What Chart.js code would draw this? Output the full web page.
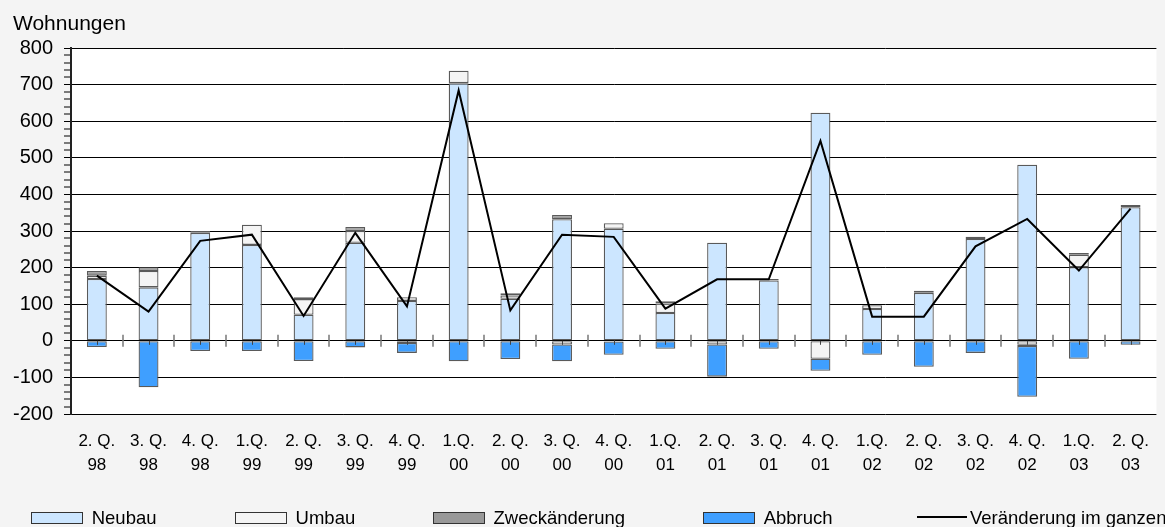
<!DOCTYPE html>
<html>
<head>
<meta charset="utf-8">
<script src="https://cdn.jsdelivr.net/npm/chart.js@4.4.0/dist/chart.umd.min.js"></script>
<style>
  html, body { margin: 0; padding: 0; background: #f4f4f4; }
  #wrap { position: relative; width: 1165px; height: 527px; overflow: hidden;
          font-family: "Liberation Sans", Arial, sans-serif; color: #000; }
  #chart { position: absolute; left: 0; top: 0; }
  #unit { position: absolute; left: 13px; top: 12px; font-size: 21px; line-height: 21px; }
  .leg { position: absolute; top: 508px; font-size: 18.5px; line-height: 19px; white-space: nowrap; }
  .leg i { position: absolute; left: 0; top: 4px; width: 50px; height: 10px; border: 1px solid #333; }
  .leg i.line { top: 8px; height: 2px; border: 0; background: #000; }
</style>
</head>
<body>
<div id="wrap">
  <canvas id="chart" width="1165" height="527"></canvas>
  <div id="unit">Wohnungen</div>
  <div id="legend"></div>
</div>
<script>
// Quartale und Jahre (Achsenbeschriftung)
var quarters = ["2. Q.", "3. Q.", "4. Q.", "1.Q.", "2. Q.", "3. Q.", "4. Q.",
                "1.Q.", "2. Q.", "3. Q.", "4. Q.", "1.Q.", "2. Q.", "3. Q.", "4. Q.",
                "1.Q.", "2. Q.", "3. Q.", "4. Q.", "1.Q.", "2. Q."];
var years = ["98", "98", "98", "99", "99", "99", "99",
             "00", "00", "00", "00", "01", "01", "01", "01",
             "02", "02", "02", "02", "03", "03"];

// Werte (Wohnungen)
var neubau   = [169, 146, 295, 262, 71, 268, 109, 704, 115, 332, 306, 76, 268, 165, 623, 87, 131, 278, 481, 201, 365];
var umbau    = [9, 45, 0, 55, 43, 32, 10, 34, 9, -10, 15, 26, -10, 0, -49, 10, 6, 6, -11, 34, 6];
var zweck    = [13, 10, 5, 0, 5, 11, -6, 0, 6, 12, -2, 6, 0, 4, 0, 0, 0, 0, -3, 5, 0];
var abbruch  = [-17, -127, -28, -28, -55, -18, -27, -56, -50, -46, -36, -22, -88, -22, -33, -38, -71, -33, -139, -49, -11];
var gesamt   = [178, 80, 273, 290, 68, 295, 94, 684, 83, 290, 284, 88, 168, 168, 546, 66, 66, 258, 333, 192, 361];

var labels = quarters.map(function(q, i){ return [q, years[i]]; });

// weisser Hintergrund der Zeichenflaeche
var plotBg = {
  id: 'plotBg',
  beforeDraw: function(chart){
    var a = chart.chartArea, ctx = chart.ctx;
    ctx.save();
    ctx.fillStyle = '#fff';
    ctx.fillRect(a.left, a.top, a.right - a.left, a.bottom - a.top);
    ctx.restore();
  }
};

// Striche auf der Nulllinie zwischen den Kategorien
var zeroTicks = {
  id: 'zeroTicks',
  afterDatasetsDraw: function(chart){
    var x = chart.scales.x, y = chart.scales.y, ctx = chart.ctx;
    var y0 = y.getPixelForValue(0);
    var n = chart.data.labels.length;
    ctx.save();
    ctx.lineWidth = 1.5;
    ctx.strokeStyle = '#777';
    for (var i = 1; i < n; i++) {
      var xb = Math.round((x.getPixelForValue(i - 1) + x.getPixelForValue(i)) / 2);
      ctx.beginPath(); ctx.moveTo(xb, y0 - 6); ctx.lineTo(xb, y0 + 6); ctx.stroke();
    }
    ctx.lineWidth = 1;
    ctx.strokeStyle = '#444';
    for (i = 0; i < n; i++) {
      var xc = Math.round(x.getPixelForValue(i)) + 0.5;
      ctx.beginPath(); ctx.moveTo(xc, y0); ctx.lineTo(xc, y0 + 4); ctx.stroke();
    }
    ctx.restore();
  }
};

var chart = new Chart(document.getElementById('chart'), {
  type: 'bar',
  data: {
    labels: labels,
    datasets: [
      { type: 'line', label: 'Veränderung im ganzen', data: gesamt, stack: 'gesamt',
        borderColor: '#000', borderWidth: 2, pointRadius: 0, tension: 0, order: 0 },
      { label: 'Neubau', data: neubau, backgroundColor: '#cce6ff', order: 1 },
      { label: 'Umbau', data: umbau, backgroundColor: '#f4f4f4', order: 1 },
      { label: 'Zweckänderung', data: zweck, backgroundColor: '#999999', order: 1 },
      { label: 'Abbruch', data: abbruch, backgroundColor: '#3f9fff', order: 1 }
    ]
  },
  options: {
    responsive: false,
    animation: false,
    layout: { padding: { top: 48, right: 0, bottom: 49, left: 0 } },
    plugins: { legend: { display: false }, tooltip: { enabled: false } },
    datasets: {
      bar: { borderColor: '#5a5a5a', borderWidth: 1.3, borderSkipped: false,
             barPercentage: 0.385, categoryPercentage: 1 }
    },
    scales: {
      x: {
        stacked: true,
        afterFit: function(s){ s.height = 64; },
        grid: { display: false, drawTicks: false },
        border: { display: false },
        ticks: { autoSkip: false, maxRotation: 0, padding: 16, color: '#000',
                 font: { family: '"Liberation Sans", Arial', size: 17, lineHeight: 1.37 } }
      },
      y: {
        stacked: true,
        min: -200,
        max: 800,
        afterFit: function(s){ s.width = 71; },
        ticks: {
          stepSize: 20, autoSkip: false, padding: 11, color: '#000',
          font: { family: '"Liberation Sans", Arial', size: 20 },
          callback: function(v){ return Math.round(v) % 100 === 0 ? Math.round(v) : ''; }
        },
        grid: {
          color: '#000',
          lineWidth: function(c){ return c.tick && Math.round(c.tick.value) % 100 === 0 ? 1 : 0; },
          tickWidth: 1, tickColor: '#000', tickLength: 7
        },
        border: { color: '#222', width: 2 }
      }
    }
  },
  plugins: [plotBg, zeroTicks]
});

// Legende unten
var legendPos = [30.7, 234.6, 432.5, 702.7, 917];
var legendOrder = [1, 2, 3, 4, 0];
var legEl = document.getElementById('legend');
legendOrder.forEach(function(di, k){
  var ds = chart.data.datasets[di];
  var item = document.createElement('div');
  item.className = 'leg';
  item.style.left = legendPos[k] + 'px';
  var sw = document.createElement('i');
  if (ds.type === 'line') {
    sw.className = 'line';
    item.style.paddingLeft = '53px';
  } else {
    sw.style.background = ds.backgroundColor;
    item.style.paddingLeft = '61px';
  }
  item.appendChild(sw);
  item.appendChild(document.createTextNode(ds.label));
  legEl.appendChild(item);
});
</script>
</body>
</html>
